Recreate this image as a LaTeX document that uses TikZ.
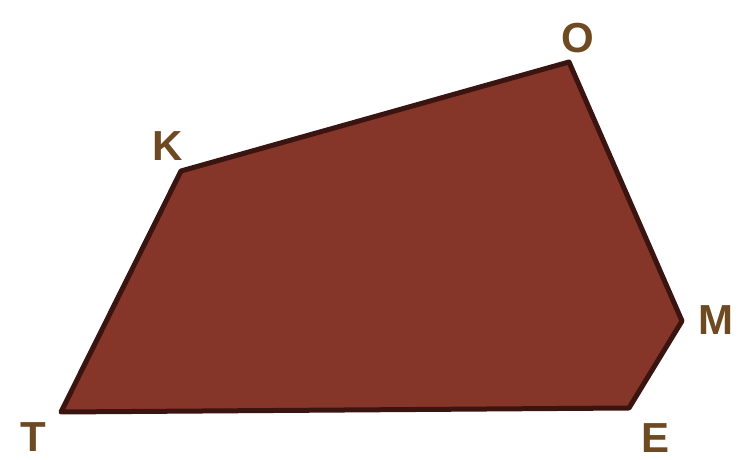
\documentclass[tikz,border=0pt]{standalone}
\usepackage{fontspec}
\setmainfont{Liberation Sans}
\definecolor{fillbrown}{HTML}{863628}
\definecolor{edgebrown}{HTML}{3A1410}
\definecolor{labelbrown}{HTML}{6E4A22}
\begin{document}
\begin{tikzpicture}[x=1pt,y=1pt,
  lbl/.style={text=labelbrown,font=\fontsize{42}{42}\selectfont\bfseries,inner sep=0pt}]
\useasboundingbox (0,0) rectangle (739,460);
\coordinate (T) at (61,48);
\coordinate (K) at (181,289);
\coordinate (O) at (569,398);
\coordinate (M) at (682,139);
\coordinate (E) at (629,52);
\filldraw[fill=fillbrown,draw=edgebrown,line width=5pt,line join=round]
  (T) -- (K) -- (O) -- (M) -- (E) -- cycle;
\node[lbl] (lT) at (33,23) {T};
\node[lbl] (lK) at (168,314) {K};
\node[lbl] (lO) at (578,422) {O};
\node[lbl] (lM) at (716,140) {M};
\node[lbl] (lE) at (655,22) {E};
\end{tikzpicture}
\end{document}
